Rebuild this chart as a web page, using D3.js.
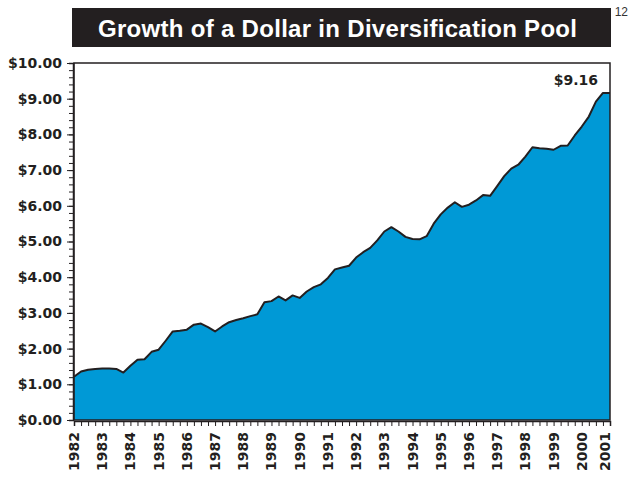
<!DOCTYPE html>
<html><head><meta charset="utf-8">
<script src="https://cdn.jsdelivr.net/npm/d3@7"></script>
<style>body{margin:0;background:#fff;}svg{display:block;font-family:"DejaVu Sans",sans-serif;}</style>
</head><body>
<script>
const title = "Growth of a Dollar in Diversification Pool";
const pageNumber = "12";
const years = [1982,1983,1984,1985,1986,1987,1988,1989,1990,1991,1992,1993,1994,1995,1996,1997,1998,1999,2000,2001];
const yTicks = [0,1,2,3,4,5,6,7,8,9,10];
const endLabel = "$9.16";
// quarterly growth of $1, 1982Q1 .. 2001Q1
const values = [
 1.21,1.36,1.41,1.43, 1.44,1.44,1.43,1.33,
 1.52,1.69,1.70,1.91, 1.97,2.22,2.48,2.50,
 2.53,2.67,2.70,2.60, 2.48,2.62,2.74,2.80,
 2.85,2.91,2.96,3.30, 3.33,3.46,3.35,3.49,
 3.42,3.60,3.72,3.80, 3.98,4.22,4.27,4.32,
 4.55,4.70,4.82,5.03, 5.28,5.40,5.28,5.13,
 5.07,5.06,5.15,5.50, 5.76,5.95,6.10,5.97,
 6.03,6.15,6.30,6.28, 6.55,6.83,7.04,7.15,
 7.38,7.64,7.61,7.60, 7.57,7.68,7.69,7.97,
 8.22,8.50,8.92,9.16, 9.16
];

const W = 630, H = 478;
const m = {left:74, right:610, top:63, bottom:420};
const svg = d3.select("body").append("svg").attr("width",W).attr("height",H);

const x = d3.scaleLinear().domain([0, values.length-1]).range([m.left, m.right]);
const y = d3.scaleLinear().domain([0,10]).range([m.bottom, m.top]);
const ink = "#231f20";
const labelFont = "DejaVu Sans, sans-serif";

// title box
svg.append("rect").attr("x",72).attr("y",8).attr("width",539).attr("height",39).attr("fill",ink);
svg.append("text").attr("x",98).attr("y",37)
  .attr("fill","#fff").attr("font-size",24).attr("font-weight","bold")
  .attr("font-family","Liberation Sans, Arial, sans-serif")
  .attr("textLength",479).attr("lengthAdjust","spacing").text(title);
svg.append("text").attr("x",628).attr("y",16).attr("text-anchor","end")
  .attr("fill","#333").attr("font-size",12).attr("font-family","Liberation Sans, Arial, sans-serif").text(pageNumber);

// area
const area = d3.area().x((d,i)=>x(i)).y0(y(0)).y1(d=>y(d));
const line = d3.line().x((d,i)=>x(i)).y(d=>y(d));
svg.append("path").datum(values).attr("d",area).attr("fill","#0099d6");
svg.append("path").datum(values).attr("d",line).attr("fill","none").attr("stroke",ink).attr("stroke-width",2).attr("stroke-linejoin","round");

// frame
svg.append("rect").attr("x",m.left).attr("y",m.top).attr("width",m.right-m.left).attr("height",m.bottom-m.top)
  .attr("fill","none").attr("stroke",ink).attr("stroke-width",1.5);

// y axis
const yMinor = d3.range(0,10.001,0.2);
const yAxisMinor = d3.axisLeft(y).tickValues(yMinor).tickSize(4).tickFormat("");
svg.append("g").attr("transform",`translate(${m.left-1},0)`).call(yAxisMinor)
  .call(g=>{g.select(".domain").attr("stroke",ink).attr("stroke-width",1.5);g.selectAll("line").attr("stroke",ink);});
const yAxis = d3.axisLeft(y).tickValues(yTicks).tickSize(6).tickPadding(5).tickFormat(d=>"$"+d3.format(".2f")(d));
svg.append("g").attr("transform",`translate(${m.left-1},0)`).call(yAxis)
  .call(g=>{g.select(".domain").remove();g.selectAll("line").attr("stroke",ink);
    g.selectAll("text").attr("font-size",14).attr("font-weight","bold").attr("fill",ink).attr("font-family",labelFont);});

// x axis
const xAxis = d3.axisBottom(x).tickValues(d3.range(values.length)).tickSize(5).tickFormat("");
svg.append("g").attr("transform",`translate(0,${m.bottom+1})`).call(xAxis)
  .call(g=>{g.select(".domain").attr("stroke",ink).attr("stroke-width",1.5);g.selectAll("line").attr("stroke",ink);});
svg.append("g").selectAll("text").data(years).join("text")
  .attr("transform",(d,i)=>`translate(${Math.min(x(i*4),605)+5},432) rotate(-90)`)
  .attr("text-anchor","end").attr("font-size",14).attr("font-weight","bold").attr("fill",ink)
  .attr("font-family",labelFont).text(d=>d);

// end label
svg.append("text").attr("x",x(values.length-1)-12).attr("y",y(values[values.length-1])-8)
  .attr("text-anchor","end").attr("font-size",14).attr("font-weight","bold").attr("fill",ink)
  .attr("font-family",labelFont).text(endLabel);
</script>
</body></html>
